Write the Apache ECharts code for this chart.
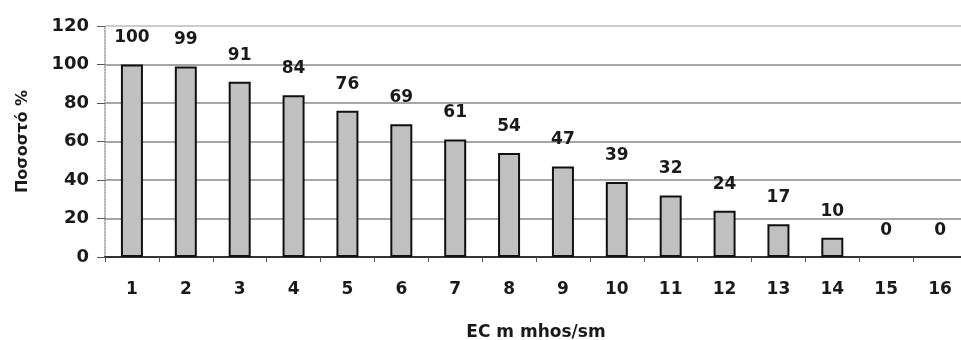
<!DOCTYPE html>
<html>
<head>
<meta charset="utf-8">
<script src="https://cdn.jsdelivr.net/npm/echarts@6/dist/echarts.min.js"></script>
<style>
  html, body { margin: 0; padding: 0; background: #fff; }
  #chart { width: 961px; height: 340px; }
</style>
</head>
<body>
<div id="chart"></div>
<script>
// EC classes on the x axis
const categories = ["1", "2", "3", "4", "5", "6", "7", "8", "9", "10", "11", "12", "13", "14", "15", "16"];
// percentage per class
const percentValues = [100, 99, 91, 84, 76, 69, 61, 54, 47, 39, 32, 24, 17, 10, 0, 0];
const yAxisTitle = "Ποσοστό %";
const xAxisTitle = "EC m mhos/sm";

const textColor = "#1a1a1a";
const font = "DejaVu Sans, Arial, sans-serif";

const chart = echarts.init(document.getElementById("chart"));

// zero bars have no visible outline in the original
const barData = percentValues.map(v => ({
  value: v,
  itemStyle: { borderWidth: v === 0 ? 0 : 2 },
}));

const option = {
  animation: false,
  backgroundColor: "#fff",
  grid: {
    left: 105,
    right: -6,
    top: 26,
    bottom: 83,
    outerBoundsMode: "none",
  },
  xAxis: {
    type: "category",
    data: categories,
    name: xAxisTitle,
    nameLocation: "middle",
    nameGap: 67,
    nameTextStyle: {
      color: textColor,
      fontFamily: font,
      fontWeight: "bold",
      fontSize: 17,
    },
    axisLine: {
      lineStyle: { color: "#333", width: 2 },
    },
    axisTick: {
      show: true,
      length: 5,
      lineStyle: { color: "#555" },
    },
    axisLabel: {
      color: textColor,
      fontFamily: font,
      fontWeight: "bold",
      fontSize: 17,
      margin: 24,
    },
  },
  yAxis: {
    type: "value",
    min: 0,
    max: 120,
    interval: 20,
    name: yAxisTitle,
    nameLocation: "middle",
    nameGap: 74,
    nameTextStyle: {
      color: textColor,
      fontFamily: font,
      fontWeight: "bold",
      fontSize: 16,
    },
    axisLine: {
      show: true,
      lineStyle: { color: "#999", type: "dotted", width: 1.5 },
    },
    axisTick: {
      show: true,
      length: 8,
      lineStyle: { color: "#555" },
    },
    axisLabel: {
      color: textColor,
      fontFamily: font,
      fontWeight: "bold",
      fontSize: 18,
      margin: 16,
    },
    splitLine: {
      lineStyle: {
        // one colour per gridline, the top one is lighter
        color: ["#888", "#888", "#888", "#888", "#888", "#888", "#bbb"],
        width: 1.5,
      },
    },
  },
  series: [
    {
      type: "bar",
      data: barData,
      barWidth: 22,
      itemStyle: {
        color: "#c0c0c0",
        borderColor: "#111",
        borderWidth: 2,
      },
      label: {
        show: true,
        position: "top",
        distance: 18,
        color: textColor,
        fontFamily: font,
        fontWeight: "bold",
        fontSize: 17,
      },
    },
  ],
};

chart.setOption(option);
</script>
</body>
</html>
